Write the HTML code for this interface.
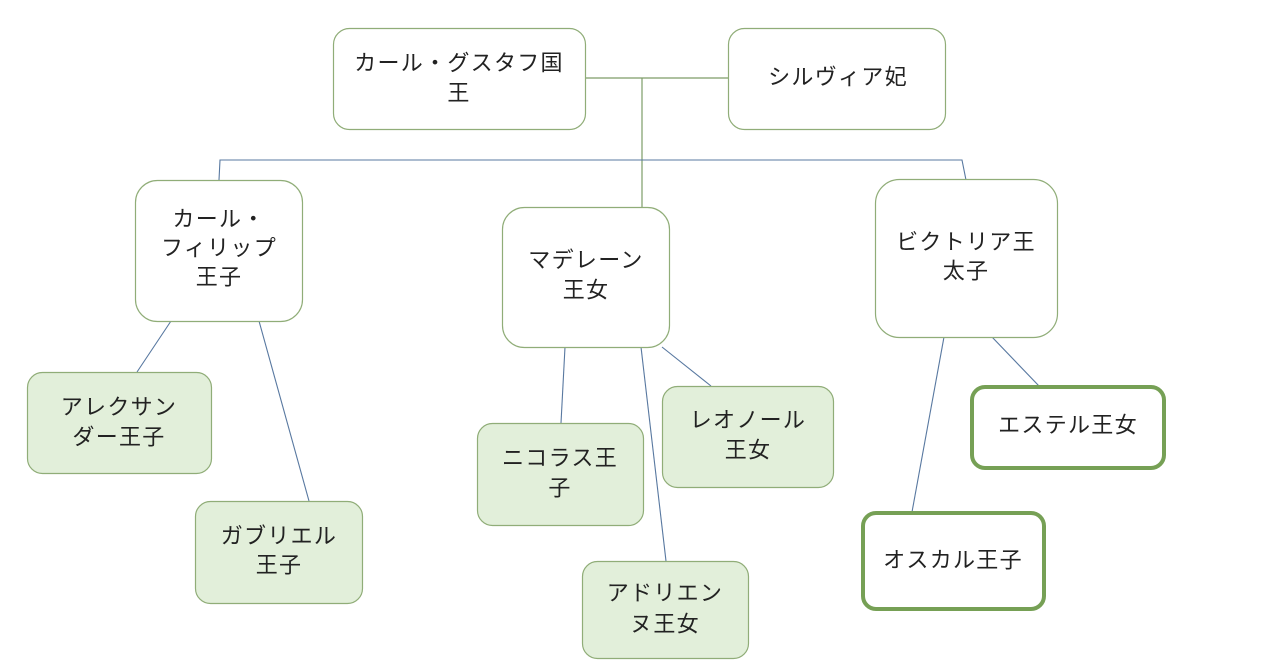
<!DOCTYPE html>
<html><head><meta charset="utf-8"><style>
html,body{margin:0;padding:0;background:#fff;}
svg{display:block;}
text{font-family:"Liberation Sans","Noto Sans CJK JP",sans-serif;font-size:22px;fill:#222;letter-spacing:1.3px;dominant-baseline:central;text-anchor:middle;}
</style></head><body>
<svg width="1280" height="670" viewBox="0 0 1280 670" xmlns="http://www.w3.org/2000/svg">
<!-- connectors -->
<g stroke="#7d9c68" stroke-width="1.2" fill="none">
<line x1="585" y1="78" x2="728" y2="78"/>
<line x1="642" y1="78" x2="642" y2="207"/>
</g>
<g stroke="#5878a0" stroke-width="1.1" fill="none">
<polyline points="219,180 220,160 962,160 966,180"/>
<line x1="171" y1="321" x2="137" y2="372"/>
<line x1="259" y1="321" x2="309" y2="501"/>
<line x1="565" y1="347" x2="561" y2="423"/>
<line x1="641" y1="347" x2="666" y2="561"/>
<line x1="662" y1="347" x2="711" y2="386"/>
<line x1="944" y1="337" x2="912" y2="512"/>
<line x1="992" y1="337" x2="1039" y2="386"/>
</g>
<!-- white boxes -->
<g fill="#fff" stroke="#90ad78" stroke-width="1.2">
<rect x="333.5" y="28.5" width="252" height="101" rx="16"/>
<rect x="728.5" y="28.5" width="217" height="101" rx="16"/>
<rect x="135.5" y="180.5" width="167" height="141" rx="22"/>
<rect x="502.5" y="207.5" width="167" height="140" rx="22"/>
<rect x="875.5" y="179.5" width="182" height="158" rx="24"/>
</g>
<!-- green boxes -->
<g fill="#e2efda" stroke="#90ad78" stroke-width="1.2">
<rect x="27.5" y="372.5" width="184" height="101" rx="15"/>
<rect x="195.5" y="501.5" width="167" height="102" rx="15"/>
<rect x="477.5" y="423.5" width="166" height="102" rx="15"/>
<rect x="662.5" y="386.5" width="171" height="101" rx="15"/>
<rect x="582.5" y="561.5" width="166" height="97" rx="15"/>
</g>
<!-- thick bordered -->
<g fill="#fff" stroke="#76a055" stroke-width="4">
<rect x="972" y="387" width="192" height="81" rx="13"/>
<rect x="863" y="513" width="181" height="96" rx="13"/>
</g>
<!-- labels -->
<text x="459" y="63">カール・グスタフ国</text>
<text x="459" y="93">王</text>
<text x="838" y="77">シルヴィア妃</text>
<text x="219" y="219">カール・</text>
<text x="219" y="248">フィリップ</text>
<text x="219" y="277">王子</text>
<text x="586" y="260">マデレーン</text>
<text x="586" y="290">王女</text>
<text x="966" y="242">ビクトリア王</text>
<text x="966" y="271">太子</text>
<text x="119" y="407">アレクサン</text>
<text x="119" y="437">ダー王子</text>
<text x="279" y="536">ガブリエル</text>
<text x="279" y="565">王子</text>
<text x="560" y="458">ニコラス王</text>
<text x="560" y="488">子</text>
<text x="748" y="420">レオノール</text>
<text x="748" y="450">王女</text>
<text x="665" y="593">アドリエン</text>
<text x="665" y="624">ヌ王女</text>
<text x="1068" y="425">エステル王女</text>
<text x="953" y="560">オスカル王子</text>
</svg>
</body></html>
